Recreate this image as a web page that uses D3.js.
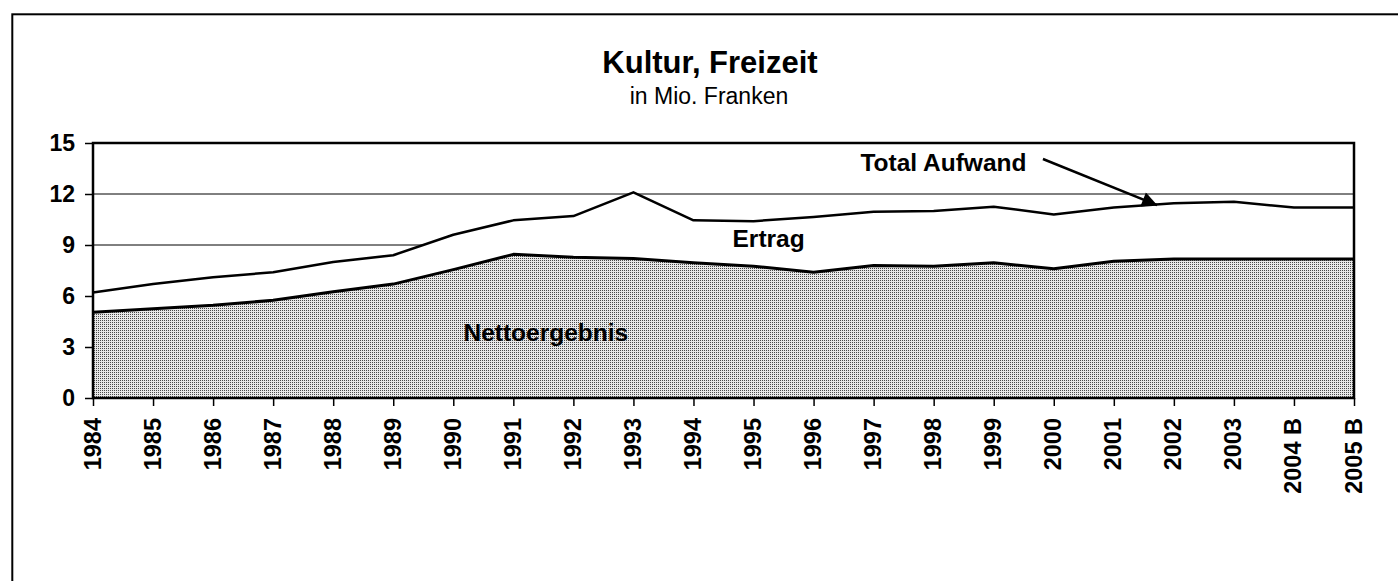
<!DOCTYPE html>
<html>
<head>
<meta charset="utf-8">
<script src="https://cdn.jsdelivr.net/npm/d3@7/dist/d3.min.js"></script>
<style>
  html, body { margin: 0; padding: 0; background: #fff; }
  svg { display: block; font-family: Arial, "Liberation Sans", sans-serif; }
</style>
</head>
<body>
<div id="chart"></div>
<script>
// Werte (Mio. Franken)
const years = ["1984", "1985", "1986", "1987", "1988", "1989", "1990", "1991", "1992", "1993", "1994",
               "1995", "1996", "1997", "1998", "1999", "2000", "2001", "2002", "2003", "2004 B", "2005 B"];
const totalAufwand = [6.2, 6.7, 7.1, 7.4, 8.0, 8.4, 9.6, 10.45, 10.7, 12.1, 10.45,
                      10.4, 10.65, 10.95, 11.0, 11.25, 10.8, 11.2, 11.45, 11.55, 11.2, 11.2];
const nettoergebnis = [5.05, 5.25, 5.45, 5.75, 6.25, 6.7, 7.55, 8.45, 8.28, 8.2, 7.95,
                       7.75, 7.4, 7.8, 7.75, 7.95, 7.6, 8.05, 8.18, 8.18, 8.18, 8.18];
const yTicks = [0, 3, 6, 9, 12, 15];

document.addEventListener("DOMContentLoaded", function() {
    const W = 1398, H = 581;
    const plot = { left: 93, right: 1354, top: 143, bottom: 398 };

    const svg = d3.select("#chart").append("svg")
        .attr("width", W)
        .attr("height", H);

    // Muster für die Fläche Nettoergebnis
    const defs = svg.append("defs");
    const pat = defs.append("pattern")
        .attr("id", "dots")
        .attr("patternUnits", "userSpaceOnUse")
        .attr("width", 2)
        .attr("height", 2);
    pat.append("rect").attr("width", 2).attr("height", 2).attr("fill", "#e8e8e8");
    pat.append("rect").attr("width", 1).attr("height", 1).attr("fill", "#4a4a4a");

    defs.append("marker")
        .attr("id", "arrowhead")
        .attr("viewBox", "0 0 10 10")
        .attr("refX", 10)
        .attr("refY", 5)
        .attr("markerWidth", 7)
        .attr("markerHeight", 6)
        .attr("markerUnits", "strokeWidth")
        .attr("orient", "auto")
        .append("path")
        .attr("d", "M0,0 L10,5 L0,10 z")
        .attr("fill", "#000");

    // Rahmen
    svg.append("rect")
        .attr("x", 12.3)
        .attr("y", 14.3)
        .attr("width", W)
        .attr("height", H)
        .attr("fill", "none")
        .attr("stroke", "#000")
        .attr("stroke-width", 2);

    const x = d3.scalePoint()
        .domain(years)
        .range([plot.left, plot.right]);

    const xi = d3.scaleLinear()
        .domain([0, years.length - 1])
        .range([plot.left, plot.right]);

    const y = d3.scaleLinear()
        .domain([0, 15])
        .range([plot.bottom, plot.top]);

    const data = years.map((yr, i) => ({ year: yr, total: totalAufwand[i], net: nettoergebnis[i] }));

    // Gitterlinien
    svg.append("g")
        .selectAll("line")
        .data(yTicks.filter(t => t > 0 && t < 15))
        .enter().append("line")
        .attr("x1", plot.left)
        .attr("x2", plot.right)
        .attr("y1", d => y(d))
        .attr("y2", d => y(d))
        .attr("stroke", "#000")
        .attr("stroke-width", 1);

    // Ertrag (weiss, zwischen Netto und Total)
    const areaErtrag = d3.area()
        .x(d => x(d.year))
        .y0(d => y(d.net))
        .y1(d => y(d.total));

    svg.append("path")
        .datum(data)
        .attr("fill", "#fff")
        .attr("d", areaErtrag);

    const areaNet = d3.area()
        .x(d => x(d.year))
        .y0(y(0))
        .y1(d => y(d.net));

    svg.append("path")
        .datum(data)
        .attr("fill", "url(#dots)")
        .attr("d", areaNet);

    const lineTotal = d3.line()
        .x(d => x(d.year))
        .y(d => y(d.total));

    const lineNet = d3.line()
        .x(d => x(d.year))
        .y(d => y(d.net));

    svg.append("path")
        .datum(data)
        .attr("fill", "none")
        .attr("stroke", "#000")
        .attr("stroke-width", 2.5)
        .attr("stroke-linejoin", "round")
        .attr("d", lineTotal);

    svg.append("path")
        .datum(data)
        .attr("fill", "none")
        .attr("stroke", "#000")
        .attr("stroke-width", 3)
        .attr("stroke-linejoin", "round")
        .attr("d", lineNet);

    // Plotrahmen
    svg.append("rect")
        .attr("x", plot.left)
        .attr("y", plot.top)
        .attr("width", plot.right - plot.left)
        .attr("height", plot.bottom - plot.top)
        .attr("fill", "none")
        .attr("stroke", "#000")
        .attr("stroke-width", 2.5);

    // Achsen
    const yAxis = svg.append("g")
        .attr("transform", `translate(${plot.left},0)`)
        .call(d3.axisLeft(y).tickValues(yTicks).tickSize(8).tickPadding(10));
    yAxis.select(".domain").remove();
    yAxis.selectAll("line").attr("stroke", "#000").attr("stroke-width", 1.5);
    yAxis.selectAll("text")
        .style("font-size", "23px")
        .style("font-weight", "bold")
        .attr("fill", "#000");

    const xAxis = svg.append("g")
        .attr("transform", `translate(0,${plot.bottom})`)
        .call(d3.axisBottom(x).tickSize(8).tickPadding(0));
    xAxis.select(".domain").remove();
    xAxis.selectAll("line").attr("stroke", "#000").attr("stroke-width", 1.5);
    xAxis.selectAll("text")
        .style("font-size", "23.5px")
        .style("font-weight", "bold")
        .attr("fill", "#000")
        .attr("text-anchor", "end")
        .attr("x", 0)
        .attr("y", 0)
        .attr("dy", null)
        .attr("transform", "translate(7,20) rotate(-90)");

    // Titel
    svg.append("text")
        .attr("x", 710)
        .attr("y", 73)
        .attr("text-anchor", "middle")
        .style("font-size", "31px")
        .style("font-weight", "bold")
        .text("Kultur, Freizeit");

    svg.append("text")
        .attr("x", 709)
        .attr("y", 104)
        .attr("text-anchor", "middle")
        .style("font-size", "23px")
        .text("in Mio. Franken");

    // Beschriftungen
    svg.append("text")
        .attr("x", xi(12.78))
        .attr("y", y(13.37))
        .style("font-size", "24.5px")
        .style("font-weight", "bold")
        .text("Total Aufwand");

    svg.append("text")
        .attr("x", xi(10.65))
        .attr("y", y(8.9))
        .style("font-size", "24.5px")
        .style("font-weight", "bold")
        .text("Ertrag");

    svg.append("text")
        .attr("x", xi(6.17))
        .attr("y", y(3.34))
        .style("font-size", "24.5px")
        .style("font-weight", "bold")
        .text("Nettoergebnis");

    // Pfeil zu Total Aufwand
    svg.append("line")
        .attr("x1", xi(15.82))
        .attr("y1", y(14.06))
        .attr("x2", xi(17.72))
        .attr("y2", y(11.35))
        .attr("stroke", "#000")
        .attr("stroke-width", 2.5)
        .attr("marker-end", "url(#arrowhead)");
});
</script>
</body>
</html>
